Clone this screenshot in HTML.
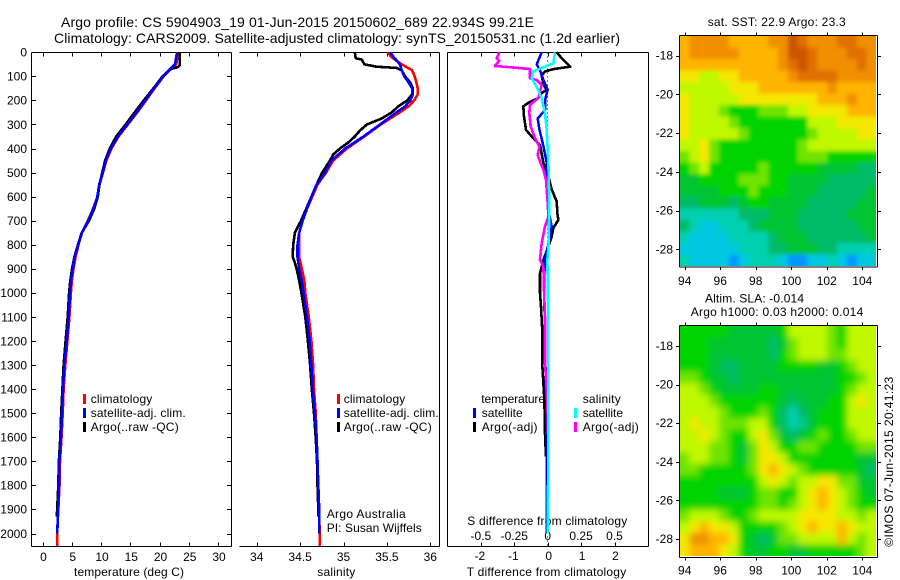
<!DOCTYPE html>
<html>
<head>
<meta charset="utf-8">
<title>Argo profile</title>
<style>
html,body{margin:0;padding:0;background:#fff;}
svg{display:block;}
text{font-family:"Liberation Sans",sans-serif;font-size:12px;fill:#000;}
.t14{font-size:14px;}
</style>
</head>
<body>
<svg id="chart" xmlns="http://www.w3.org/2000/svg" width="900" height="580" viewBox="0 0 900 580">
<rect x="0" y="0" width="900" height="580" fill="#fff"/>
<text class="t14" x="61" y="27" textLength="473">Argo profile: CS 5904903_19 01-Jun-2015 20150602_689 22.934S 99.21E</text>
<text class="t14" x="54" y="43" textLength="566">Climatology: CARS2009. Satellite-adjusted climatology: synTS_20150531.nc (1.2d earlier)</text>
<text x="74" y="576" textLength="110">temperature (deg C)</text>
<text x="317.3" y="576" textLength="38">salinity</text>
<text x="466.7" y="576" textLength="159.5">T difference from climatology</text>
<text x="467.3" y="525" textLength="160">S difference from climatology</text>
<g>
<rect x="83" y="394" width="3" height="10" fill="#f00"/>
<rect x="83" y="408" width="3" height="10" fill="#00f"/>
<rect x="83" y="422" width="3" height="10" fill="#000"/>
<text x="90.7" y="403" textLength="61.6">climatology</text>
<text x="90.7" y="417" textLength="95">satellite-adj. clim.</text>
<text x="90.7" y="431" textLength="88">Argo(..raw -QC)</text>
</g>
<g>
<rect x="337" y="394" width="3" height="10" fill="#f00"/>
<rect x="337" y="408" width="3" height="10" fill="#00f"/>
<rect x="337" y="422" width="3" height="10" fill="#000"/>
<text x="343.7" y="403" textLength="61.6">climatology</text>
<text x="343.7" y="417" textLength="95">satellite-adj. clim.</text>
<text x="343.7" y="431" textLength="88">Argo(..raw -QC)</text>
</g>
<text x="326.7" y="518" textLength="79">Argo Australia</text>
<text x="326.7" y="532" textLength="95">PI: Susan Wijffels</text>
<g id="overlay-legend"></g>
<text x="707.7" y="26" textLength="138">sat. SST: 22.9 Argo: 23.3</text>
<text x="705" y="302.5" textLength="99">Altim. SLA: -0.014</text>
<text x="690.7" y="316" textLength="172.6">Argo h1000: 0.03 h2000: 0.014</text>
<text transform="translate(893,546.7) rotate(-90)" x="0" y="0" textLength="170">©IMOS 07-Jun-2015 20:41:23</text>
<defs>
<filter id="blurSst" x="-5%" y="-5%" width="110%" height="110%"><feGaussianBlur stdDeviation="2.2"/></filter>
<filter id="blurSla" x="-5%" y="-5%" width="110%" height="110%"><feGaussianBlur stdDeviation="3.5"/></filter>
<clipPath id="clipSst"><rect x="680" y="36" width="196" height="230"/></clipPath>
<clipPath id="clipSla"><rect x="680" y="326" width="196" height="230"/></clipPath>
</defs>
</svg>
<script>
// ---------- profile data ----------
var depthLevels = [0,50,70,100,150,200,250,300,350,400,450,500,550,600,650,700,750,800,850,900,950,1000,1100,1200,1300,1400,1500,1600,1700,1800,1900,2000];
var tempClimatology = [23.2,22.85,21.9,20.7,19.15,17.7,16.2,14.6,13.0,11.8,10.9,10.35,9.75,9.4,8.65,7.75,6.7,6.15,5.65,5.3,5.0,4.85,4.6,4.25,3.9,3.6,3.45,3.25,3.0,2.9,2.7,2.5];
var tempSatellite = [23.0,22.65,21.8,20.65,19.06,17.6,16.1,14.5,12.9,11.7,10.8,10.3,9.7,9.37,8.7,7.83,6.75,6.1,5.5,5.16,4.87,4.7,4.48,4.13,3.73,3.5,3.33,3.16,2.87,2.82,2.65,2.53];
var tempArgoDepths = [0,55,62,70,100,150,200,250,300,350,400,450,500,550,600,650,700,750,800,850,900,950,1000,1100,1200,1300,1400,1500,1600,1700,1800,1930];
var tempArgo = [23.45,23.45,23.1,21.9,20.5,18.95,17.3,15.75,14.2,12.6,11.5,10.7,10.2,9.75,9.45,8.85,7.95,6.7,6.05,5.45,5.05,4.75,4.55,4.3,3.95,3.6,3.4,3.2,3.05,2.8,2.7,2.45];
var salDepths = [0,25,50,75,100,125,150,175,200,225,250,300,350,400,450,500,550,600,650,700,750,800,850,900,950,1000,1100,1200,1300,1400,1500,1600,1700,1800,1900,2000];
var salClimatology = [35.505,35.57,35.67,35.79,35.82,35.84,35.855,35.855,35.815,35.75,35.65,35.43,35.24,35.04,34.88,34.8,34.7,34.64,34.58,34.53,34.49,34.49,34.49,34.52,34.55,34.56,34.6,34.63,34.65,34.66,34.68,34.69,34.7,34.71,34.72,34.725];
var salSatellite = [35.536,35.59,35.65,35.67,35.7,35.75,35.79,35.8,35.77,35.71,35.61,35.42,35.23,35.02,34.86,34.79,34.69,34.63,34.58,34.53,34.49,34.47,34.47,34.49,34.52,34.54,34.58,34.61,34.63,34.645,34.67,34.69,34.7,34.71,34.72,34.72];
var salArgoDepths = [0,25,30,50,60,65,75,100,125,150,175,200,225,250,275,300,325,350,375,400,425,450,500,550,600,650,700,750,800,850,875,900,950,1000,1100,1200,1300,1400,1500,1600,1700,1800,1900,1930];
var salArgo = [35.13,35.14,35.21,35.24,35.38,35.61,35.67,35.71,35.77,35.8,35.79,35.735,35.63,35.555,35.44,35.27,35.19,35.13,35.055,34.96,34.88,34.845,34.755,34.69,34.63,34.57,34.51,34.44,34.42,34.415,34.44,34.46,34.49,34.515,34.56,34.59,34.615,34.635,34.66,34.68,34.695,34.7,34.71,34.71];
var diffTSatDepths = [0,50,75,115,155,200,240,275,320,390,460,570,655,725,795,860,960,1583,2000];
var diffTSat = [-0.18,-0.33,-0.23,-0.13,0,-0.08,-0.08,-0.3,-0.25,-0.13,-0.03,-0.03,0.02,0.12,0.02,-0.08,-0.11,-0.03,-0.03];
var diffTArgoDepths = [0,25,60,70,80,95,135,155,170,190,210,225,267,322,350,385,460,515,570,620,670,697,730,765,807,863,918,1000,1057,1167,1306,1445,1583,1680];
var diffTArgo = [0.27,0.42,0.67,0.17,-0.08,-0.18,-0.13,-0.03,-0.18,-0.28,-0.58,-0.73,-0.71,-0.65,-0.48,-0.23,-0.13,0.02,0.12,0.27,0.29,0.32,0.17,0.12,0.02,-0.13,-0.23,-0.23,-0.2,-0.16,-0.16,-0.1,-0.08,-0.05];
var diffSArgoDepths = [0,25,35,57,62,70,108,115,136,190,219,253,309,357,392,427,454,489,530,627,683,724,793,863,890,987,1098,1209,1292,1403,1472,1645];
var diffSArgo = [-0.3625,-0.3825,-0.3625,-0.395,-0.2825,-0.1325,-0.1325,-0.0825,-0.045,-0.07,-0.1325,-0.1375,-0.1275,-0.095,-0.0625,-0.075,-0.0575,-0.0325,-0.0125,0,0.005,-0.02,-0.045,-0.0575,-0.0325,-0.0275,-0.02,-0.02,-0.02,-0.0075,-0.0025,0.005];
var diffSSatDepths = [0,46,62,80,108,143,191,253,323,461,627,793,863,974,1098,1445,1610,2000];
var diffSSat = [0.055,0.0425,-0.0325,-0.1075,-0.12,-0.0825,-0.045,-0.02,-0.0075,0.005,0.0125,0.0075,-0.0025,0,0.005,0.005,0.005,0];

// ---------- axis tick labels ----------
var depthTicks = [0,100,200,300,400,500,600,700,800,900,1000,1100,1200,1300,1400,1500,1600,1700,1800,1900,2000];
var tempTicks = [0,5,10,15,20,25,30];
var salTicks = [34,34.5,35,35.5,36];
var diffTTicks = [-2,-1,0,1,2];
var diffSTicks = [-0.5,-0.25,0,0.25,0.5];
var lonTicks = [94,96,98,100,102,104];
var latTicks = [-18,-20,-22,-24,-26,-28];

// ---------- map grids (colour-class values, top row first) ----------
var sstGrid = [
[10,11,11,11,11,10,10,10,10,11,11,13,12,11,11,11,12,12,11,11],
[10,11,11,11,11,11,10,10,10,10,11,13,13,12,11,11,11,12,12,11],
[10,10,10,10,10,10,10,10,10,10,11,12,13,12,11,11,11,11,12,11],
[9,9,8,8,9,9,10,10,10,10,10,11,12,12,12,12,11,11,11,11],
[8,8,8,8,8,9,9,9,10,10,10,10,10,10,10,11,10,10,10,10],
[9,8,8,8,8,8,9,9,9,9,9,9,9,9,10,10,10,11,10,10],
[9,8,8,8,7,6,6,6,7,7,7,8,8,9,9,9,9,10,10,10],
[9,8,8,8,8,7,6,6,6,6,6,6,6,8,8,8,9,9,9,9],
[9,8,8,8,8,8,7,6,6,6,6,6,6,7,8,8,8,8,9,9],
[8,8,9,7,6,6,6,6,6,6,6,6,7,8,8,8,8,8,8,8],
[7,8,9,7,6,6,6,6,6,6,6,6,7,7,7,6,6,6,6,6],
[6,7,8,6,6,6,6,6,7,6,6,6,6,6,5,5,5,5,4,4],
[5,5,6,6,6,6,7,7,7,6,6,5,5,5,5,4,4,4,4,4],
[5,5,5,5,6,6,6,7,6,6,6,5,5,5,4,4,4,4,4,5],
[4,4,5,5,5,4,5,6,6,5,5,5,5,4,4,4,4,4,5,5],
[3,3,3,3,3,3,4,4,4,5,5,5,4,4,4,4,4,5,5,5],
[4,3,2,2,3,3,3,4,5,5,5,5,4,4,4,4,4,4,5,5],
[3,2,2,2,2,3,3,3,3,4,5,5,5,4,4,4,4,4,4,5],
[2,2,2,2,2,2,3,3,3,4,4,5,5,5,4,4,3,3,3,3],
[3,2,2,2,2,1,2,3,3,3,2,1,1,2,2,3,2,1,2,2]
];
var slaGrid = [
[6,6,6,6,6,5,5,5,5,5,6,8,8,8,8,7,6,8,8,8],
[6,6,6,5,5,5,5,5,5,4,5,7,8,8,8,7,6,8,8,8],
[6,6,6,5,5,5,5,5,5,4,6,7,8,8,8,7,7,8,8,8],
[6,6,6,5,4,4,5,5,5,5,6,6,6,6,5,5,6,7,8,8],
[7,7,6,5,5,4,5,5,5,5,5,5,5,5,5,5,6,6,7,8],
[8,8,7,6,5,5,5,5,6,6,5,5,5,5,5,5,6,7,8,8],
[8,8,8,7,6,6,6,6,6,6,5,4,5,5,5,6,6,8,9,8],
[8,8,8,8,7,6,6,6,7,6,4,3,4,5,6,6,6,8,8,8],
[8,9,8,8,7,7,7,8,8,6,4,3,3.5,5,6,6,6,8,8,8],
[8,8,9,8,7,6,6,8,9,7,5,4,5,6,7,6,6,7,8,8],
[8,8,8,7,7,6,5,7,9,8,6,6,7,7,6,6,6,6,7,7],
[7,8,8,7,7,6,5,7,9,9,8,6,6,6,6,6,6,6,5,5],
[7,7,6,6,6,6,6,7,9,10,9,8,7,6,6,6,6,6,5,4],
[6,6,6,6,6,6,6,6,8,9,8,7,8,8,9,9,7,7,5,5],
[6,6,6,6,5,5,5,6,7,7,6,6,8,9,10,9,8,7,6,5],
[6,6,6,6,6,6,6,6,7,7,6,7,8,9,10,9,8,7,6,6],
[7,8,8,8,7,6,6,7,8,8,8,8,9,9,9,9,8,8,7,8],
[8,9,10,9,9,8,6,6,6,6,7,8,9,10,9,9,10,9,8,8],
[9,11,11,10,10,9,6,5,4,5,7,7,8,8,8,8,10,8,7,8],
[9,10,10,10,9,8,6,5,5,6,6,5,5,6,6,6,6,6,7,8]
];
var heatColors = ["#0040c0","#0098ff","#00c8e0","#00d0b0","#00bc68","#00c430","#00d400","#70e400","#c0f800","#f4e800","#ffb400","#f09000","#e07000","#cc5500"];

// ---------- axis functions ----------
function yDepth(d){return 52.3+d*0.2406;}
function xTemp(v){return 42.5+v*5.85;}
function xSal(v){return 256.7+(v-34)*86.8;}
function xDiffT(v){return 547.7+v*33.4;}
function xDiffS(v){return 547.7+v*133.6;}
function xLon(v){return 684.7+(v-94)*17.76;}
function yLatTop(v){return 55.7+(-18-v)*19.36;}
function yLatBottom(v){return 346+(-18-v)*19.3;}

var svg = document.getElementById('chart');
var NS = 'http://www.w3.org/2000/svg';
function mk(tag, attrs, parent){
  var el = document.createElementNS(NS, tag);
  for (var k in attrs) el.setAttribute(k, attrs[k]);
  (parent || svg).appendChild(el);
  return el;
}
function seg(x1,y1,x2,y2,name,parent){
  var el = mk('line',{x1:x1,y1:y1,x2:x2,y2:y2,stroke:'#000','stroke-width':1,'shape-rendering':'crispEdges'},parent);
  
  
  return el;
}
function label(x,y,str,anchor,name){
  var el = mk('text',{x:x,y:y,'text-anchor':anchor});
  el.textContent = str;
  
  
  return el;
}
function profile(xs,ds,xf,color,name,w){
  var pts = [];
  for (var i=0;i<xs.length;i++) pts.push(xf(xs[i]).toFixed(1)+','+yDepth(ds[i]).toFixed(1));
  var el = mk('polyline',{points:pts.join(' '),fill:'none',stroke:color,'stroke-width':w||2.6,'stroke-linejoin':'round','shape-rendering':'crispEdges'});
  
  
  return el;
}
function heatColor(v){
  var a = Math.max(0,Math.min(heatColors.length-1,Math.floor(v)));
  var b = Math.min(heatColors.length-1,a+1);
  var f = v-a;
  function ch(h,i){return parseInt(h.substr(1+i*2,2),16);}
  var c = [0,1,2].map(function(i){return Math.round(ch(heatColors[a],i)*(1-f)+ch(heatColors[b],i)*f);});
  return 'rgb('+c.join(',')+')';
}
function heatmap(grid,x0,y0,w,h,clip,blur,name){
  var outer = mk('g',{'clip-path':'url(#'+clip+')'});
  
  
  var g = mk('g',{filter:'url(#'+blur+')'},outer);
  var rows = grid.length, cols = grid[0].length;
  var cw = w/cols, ch = h/rows;
  for (var r=0;r<rows;r++){
    for (var c=0;c<cols;c++){
      var x = x0+c*cw, y = y0+r*ch, rw = cw+0.5, rh = ch+0.5;
      if (c===0){x-=14;rw+=14;}
      if (c===cols-1){rw+=14;}
      if (r===0){y-=14;rh+=14;}
      if (r===rows-1){rh+=14;}
      var cell = mk('rect',{x:x.toFixed(2),y:y.toFixed(2),width:rw.toFixed(2),height:rh.toFixed(2),fill:heatColor(grid[r][c])},g);
      
      
    }
  }
}

// ---------- panel frames ----------
var top_ = 52.5, bot = 546.5;
// temperature panel
seg(31.5,top_,231.5,top_,'temperature-panel-top');
seg(31.5,bot,231.5,bot,'temperature-panel-bottom');
seg(31.5,top_,31.5,bot,'temperature-panel-left');
seg(231.5,top_,231.5,bot,'temperature-panel-right');
depthTicks.forEach(function(d){
  var y = Math.round(yDepth(d))+0.5;
  seg(31.5,y,36,y,'depth-tick-left');
  seg(227,y,231.5,y,'depth-tick-right');
  label(27,yDepth(d)+4.3,String(d),'end','depth-tick-label');
});
tempTicks.forEach(function(v){
  var x = Math.round(xTemp(v))+0.5;
  seg(x,top_,x,top_+4,'temperature-tick-top');
  seg(x,bot,x,bot-4,'temperature-tick-bottom');
  label(xTemp(v)+1,561,String(v),'middle','temperature-tick-label');
});
// salinity panel (no left spine)
seg(239.5,top_,439.5,top_,'salinity-panel-top');
seg(239.5,bot,439.5,bot,'salinity-panel-bottom');
seg(439.5,top_,439.5,bot,'salinity-panel-right');
salTicks.forEach(function(v){
  var x = Math.round(xSal(v))+0.5;
  seg(x,top_,x,top_+4,'salinity-tick-top');
  seg(x,bot,x,bot-4,'salinity-tick-bottom');
  label(xSal(v),561,String(v),'middle','salinity-tick-label');
});
// difference panel
seg(447.5,top_,648.5,top_,'difference-panel-top');
seg(447.5,bot,648.5,bot,'difference-panel-bottom');
seg(447.5,top_,447.5,bot,'difference-panel-left');
seg(648.5,top_,648.5,bot,'difference-panel-right');
diffTTicks.forEach(function(v){
  var x = Math.round(xDiffT(v))+0.5;
  seg(x,top_,x,top_+4,'t-difference-tick-top');
  seg(x,bot,x,bot-4,'t-difference-tick-bottom');
  label(xDiffT(v)-(v<0?1:-1),560,String(v),'middle','t-difference-tick-label');
});
diffSTicks.forEach(function(v){
  label(xDiffS(v),540,String(v),'middle','s-difference-tick-label');
});
var zeroLine = mk('line',{x1:547.5,y1:top_,x2:547.5,y2:bot,stroke:'#000','stroke-width':1,'stroke-dasharray':'1 3','shape-rendering':'crispEdges'});



// ---------- profiles ----------
profile(tempClimatology.concat([2.5]),depthLevels.concat([2052]),xTemp,'#f00','temperature-climatology-line');
profile(tempArgo,tempArgoDepths,xTemp,'#000','temperature-argo-line');
profile(tempSatellite,depthLevels,xTemp,'#00f','temperature-satellite-line');
profile(salClimatology.concat([34.725]),salDepths.concat([2052]),xSal,'#f00','salinity-climatology-line');
profile(salArgo,salArgoDepths,xSal,'#000','salinity-argo-line');
profile(salSatellite,salDepths,xSal,'#00f','salinity-satellite-line');
profile(diffTArgo,diffTArgoDepths,xDiffT,'#000','t-difference-argo-line');
profile(diffTSat,diffTSatDepths,xDiffT,'#00f','t-difference-satellite-line',2.5);
profile(diffSArgo,diffSArgoDepths,xDiffS,'#f0f','s-difference-argo-line');
profile(diffSSat,diffSSatDepths,xDiffS,'#0ff','s-difference-satellite-line');

// ---------- maps ----------
heatmap(sstGrid,679.5,36,197,230,'clipSst','blurSst','sst-heatmap');
heatmap(slaGrid,679.5,326,197,230,'clipSla','blurSla','sla-heatmap');
[[35.5,267,yLatTop,'sst'],[325.5,557.5,yLatBottom,'sla']].forEach(function(p){
  var t = p[0], b = p[1], yf = p[2], n = p[3];
  seg(679.5,t,877.5,t,n+'-frame-top');
  seg(679.5,b,877.5,b,n+'-frame-bottom');
  seg(679.5,t,679.5,b,n+'-frame-left');
  seg(877.5,t,877.5,b,n+'-frame-right');
  latTicks.forEach(function(v){
    var y = Math.round(yf(v))+0.5;
    seg(676,y,679.5,y,n+'-lat-tick-left');
    seg(877.5,y,881,y,n+'-lat-tick-right');
    label(673,yf(v)+4,String(v),'end',n+'-lat-tick-label');
  });
  lonTicks.forEach(function(v){
    var x = Math.round(xLon(v))+0.5;
    seg(x,t-3,x,t,n+'-lon-tick-top');
    seg(x,b,x,b+3,n+'-lon-tick-bottom');
    label(xLon(v),b+(n==='sst'?18:17),String(v),'middle',n+'-lon-tick-label');
  });
});

// ---------- difference legend (drawn above the lines) ----------
var lg = document.getElementById('overlay-legend');
svg.appendChild(lg);
lg.innerHTML =
 '<rect x="473" y="408" width="3" height="10" fill="#00f"/>'+
 '<rect x="473" y="422" width="3" height="10" fill="#000"/>'+
 '<rect x="574" y="408" width="3" height="10" fill="#0ff"/>'+
 '<rect x="574" y="422" width="3" height="10" fill="#f0f"/>'+
 '<text x="481.3" y="403" textLength="63.7">temperature</text>'+
 '<text x="481.7" y="417" textLength="41">satellite</text>'+
 '<text x="481.7" y="431" textLength="55.8">Argo(-adj)</text>'+
 '<text x="582.7" y="403" textLength="38">salinity</text>'+
 '<text x="582.7" y="417" textLength="40.3">satellite</text>'+
 '<text x="582.7" y="431" textLength="56">Argo(-adj)</text>';
</script>
</body>
</html>
